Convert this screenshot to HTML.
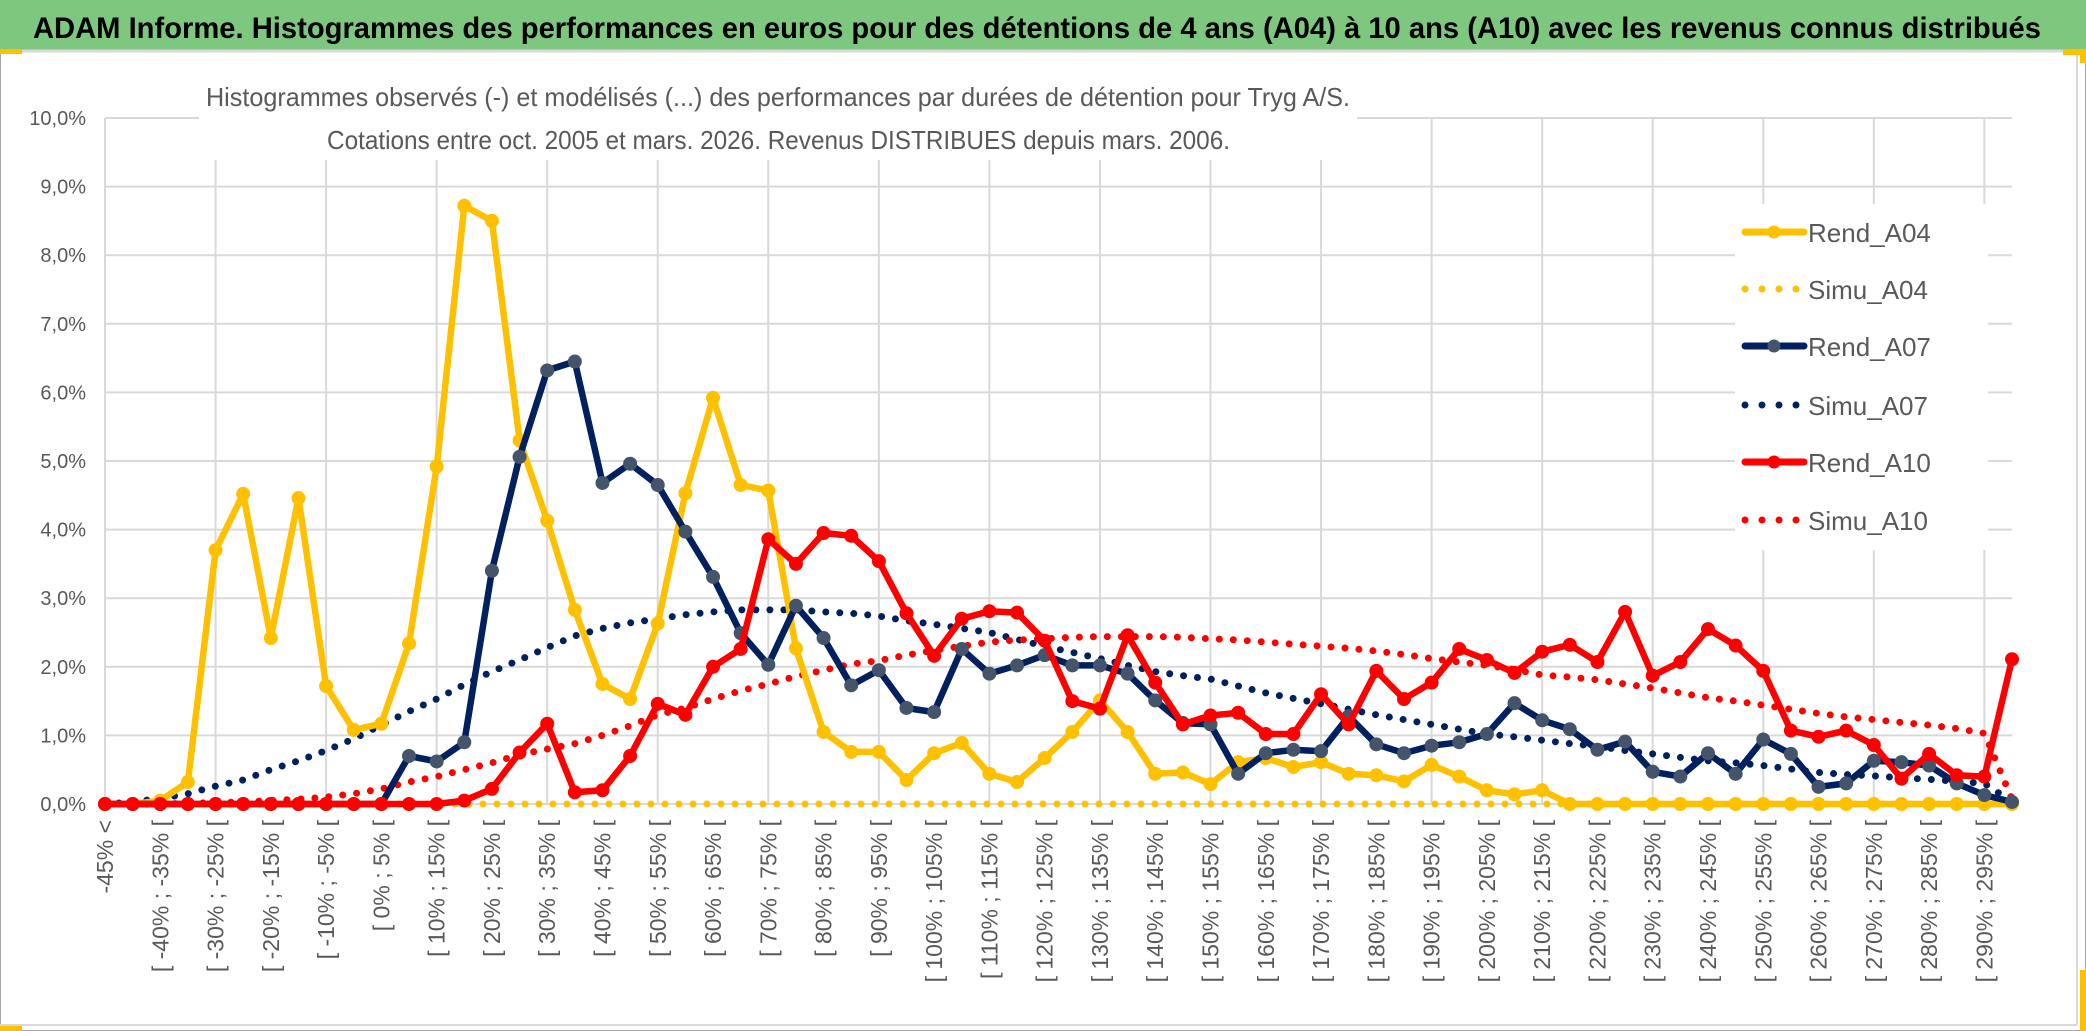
<!DOCTYPE html>
<html><head><meta charset="utf-8"><style>
html,body{margin:0;padding:0;background:#fff;}
svg{display:block;font-family:"Liberation Sans",sans-serif;}
</style></head><body>
<svg id="chart" width="2086" height="1031" viewBox="0 0 2086 1031">
  <rect x="0" y="0" width="2086" height="1031" fill="#fff"/>
  <rect x="0.5" y="0.5" width="2085" height="1030" fill="none" stroke="#a6a6a6"/>
  <rect x="0" y="0" width="2086" height="50" fill="#7DC87E"/>
  <line x1="0" y1="51" x2="2086" y2="51" stroke="#d9d9d9" stroke-width="3"/>
  <text x="33" y="38" font-size="30" font-weight="bold" fill="#000" textLength="2008" lengthAdjust="spacingAndGlyphs">ADAM Informe. Histogrammes des performances en euros pour des détentions de 4 ans (A04) à 10 ans (A10) avec les revenus connus distribués</text>
  <rect x="0" y="49" width="22" height="5" fill="#FFC000"/>
  <rect x="2063" y="49" width="23" height="6" fill="#FFC000"/>
  <rect x="2080" y="49" width="6" height="14" fill="#FFC000"/>
  <rect x="2080" y="970" width="6" height="61" fill="#FFC000"/>
  <rect x="0" y="1025" width="22" height="6" fill="#FFC000"/>
  <line x1="2077" y1="55" x2="2077" y2="1025" stroke="#d9d9d9" stroke-width="2"/>
  <line x1="0" y1="1025" x2="2077" y2="1025" stroke="#d9d9d9" stroke-width="2"/>
  <g id="grid"></g>
  <g id="yaxis"></g>
  <g id="xaxis"></g>
  <g id="series"></g>
  <rect x="199" y="60" width="1158" height="100" fill="#fff"/>
  <text x="206" y="106" font-size="26" fill="#595959" textLength="1144" lengthAdjust="spacingAndGlyphs">Histogrammes observés (-) et modélisés (...) des performances par durées de détention pour Tryg A/S.</text>
  <text x="327" y="149" font-size="26" fill="#595959" textLength="903" lengthAdjust="spacingAndGlyphs">Cotations entre oct. 2005 et mars. 2026. Revenus DISTRIBUES depuis mars. 2006.</text>
  <rect x="1735" y="204" width="253" height="346" fill="#fff"/>
  <g id="legend"></g>
</svg>
<script>
const categories = ["-45% <","[ -45% ; -40% [","[ -40% ; -35% [","[ -35% ; -30% [","[ -30% ; -25% [","[ -25% ; -20% [","[ -20% ; -15% [","[ -15% ; -10% [","[ -10% ; -5% [","[ -5% ; 0% [",
"[ 0% ; 5% [","[ 5% ; 10% [","[ 10% ; 15% [","[ 15% ; 20% [","[ 20% ; 25% [","[ 25% ; 30% [","[ 30% ; 35% [","[ 35% ; 40% [","[ 40% ; 45% [","[ 45% ; 50% [",
"[ 50% ; 55% [","[ 55% ; 60% [","[ 60% ; 65% [","[ 65% ; 70% [","[ 70% ; 75% [","[ 75% ; 80% [","[ 80% ; 85% [","[ 85% ; 90% [","[ 90% ; 95% [","[ 95% ; 100% [",
"[ 100% ; 105% [","[ 105% ; 110% [","[ 110% ; 115% [","[ 115% ; 120% [","[ 120% ; 125% [","[ 125% ; 130% [","[ 130% ; 135% [","[ 135% ; 140% [","[ 140% ; 145% [","[ 145% ; 150% [",
"[ 150% ; 155% [","[ 155% ; 160% [","[ 160% ; 165% [","[ 165% ; 170% [","[ 170% ; 175% [","[ 175% ; 180% [","[ 180% ; 185% [","[ 185% ; 190% [","[ 190% ; 195% [","[ 195% ; 200% [",
"[ 200% ; 205% [","[ 205% ; 210% [","[ 210% ; 215% [","[ 215% ; 220% [","[ 220% ; 225% [","[ 225% ; 230% [","[ 230% ; 235% [","[ 235% ; 240% [","[ 240% ; 245% [","[ 245% ; 250% [",
"[ 250% ; 255% [","[ 255% ; 260% [","[ 260% ; 265% [","[ 265% ; 270% [","[ 270% ; 275% [","[ 275% ; 280% [","[ 280% ; 285% [","[ 285% ; 290% [","[ 290% ; 295% [","[ 295% ; 300% ["];
const yTicks = [0,1,2,3,4,5,6,7,8,9,10];
const yTickLabels = ["0,0%","1,0%","2,0%","3,0%","4,0%","5,0%","6,0%","7,0%","8,0%","9,0%","10,0%"];
const rendA04 = [0,0,0.05,0.32,3.7,4.52,2.42,4.46,1.72,1.08,1.17,2.34,4.92,8.72,8.5,5.3,4.13,2.83,1.75,1.53,2.63,4.53,5.92,4.65,4.57,2.27,1.05,0.76,0.76,0.35,0.74,0.89,0.44,0.32,0.67,1.05,1.51,1.05,0.44,0.46,0.29,0.61,0.67,0.54,0.61,0.44,0.42,0.33,0.57,0.4,0.2,0.14,0.2,0,0,0,0,0,0,0,0,0,0,0,0,0,0,0,0,0];
const simuA04 = [0,0,0,0,0,0,0,0,0,0,0,0,0,0,0,0,0,0,0,0,0,0,0,0,0,0,0,0,0,0,0,0,0,0,0,0,0,0,0,0,0,0,0,0,0,0,0,0,0,0,0,0,0,0,0,0,0,0,0,0,0,0,0,0,0,0,0,0,0,0];
const rendA07 = [0,0,0,0,0,0,0,0,0,0,0,0.7,0.62,0.9,3.4,5.06,6.32,6.45,4.68,4.96,4.65,3.97,3.31,2.49,2.03,2.89,2.42,1.73,1.95,1.4,1.34,2.26,1.9,2.02,2.17,2.02,2.02,1.9,1.51,1.18,1.16,0.44,0.74,0.79,0.77,1.28,0.87,0.74,0.85,0.9,1.02,1.47,1.22,1.09,0.79,0.91,0.47,0.4,0.74,0.44,0.94,0.73,0.25,0.3,0.63,0.61,0.56,0.3,0.13,0.03];
const simuA07 = [0,0.03,0.08,0.15,0.26,0.35,0.5,0.63,0.78,0.95,1.15,1.35,1.53,1.74,1.93,2.1,2.28,2.45,2.56,2.64,2.7,2.76,2.8,2.83,2.83,2.83,2.8,2.78,2.74,2.67,2.62,2.56,2.5,2.4,2.3,2.21,2.12,2.02,1.93,1.87,1.82,1.72,1.62,1.54,1.46,1.38,1.3,1.23,1.16,1.09,1.02,0.98,0.93,0.88,0.84,0.78,0.73,0.68,0.63,0.6,0.56,0.51,0.46,0.43,0.41,0.38,0.36,0.33,0.3,0.03];
const rendA10 = [0,0,0,0,0,0,0,0,0,0,0,0,0,0.05,0.22,0.75,1.17,0.17,0.2,0.7,1.46,1.3,2.0,2.26,3.86,3.5,3.95,3.91,3.54,2.78,2.16,2.7,2.81,2.79,2.38,1.5,1.39,2.46,1.77,1.16,1.29,1.33,1.02,1.02,1.6,1.16,1.94,1.53,1.77,2.26,2.1,1.91,2.22,2.32,2.07,2.8,1.87,2.07,2.55,2.31,1.94,1.07,0.98,1.07,0.86,0.37,0.73,0.42,0.4,2.11];
const simuA10 = [0,0,0,0.01,0.02,0.03,0.05,0.07,0.1,0.15,0.22,0.32,0.4,0.5,0.6,0.72,0.8,0.88,1.0,1.14,1.3,1.4,1.53,1.65,1.75,1.86,1.95,2.04,2.09,2.17,2.24,2.3,2.36,2.39,2.41,2.43,2.44,2.44,2.44,2.43,2.41,2.39,2.36,2.33,2.3,2.27,2.23,2.18,2.12,2.07,2.02,1.96,1.88,1.85,1.81,1.75,1.69,1.62,1.55,1.5,1.44,1.38,1.32,1.27,1.23,1.19,1.15,1.1,1.03,0.07];
const seriesNames = ["Rend_A04","Simu_A04","Rend_A07","Simu_A07","Rend_A10","Simu_A10"];

const NS = "http://www.w3.org/2000/svg";
const plotL = 105, plotR = 2012, plotT = 118, plotB = 804, yMax = 10;
function xPos(i){ return plotL + i * (plotR - plotL) / (categories.length - 1); }
function yPos(v){ return plotB - v / yMax * (plotB - plotT); }
function mk(tag, attrs, parent){ const e = document.createElementNS(NS, tag); for (const k in attrs) e.setAttribute(k, attrs[k]); parent.appendChild(e); return e; }

const grid = document.getElementById('grid');
yTicks.forEach(function(t, k){
  const l = mk('line', {x1: plotL, x2: plotR, y1: yPos(t), y2: yPos(t), stroke: '#d9d9d9', 'stroke-width': 2}, grid);
  
  
  const tx = mk('text', {x: 86, y: yPos(t) + 7, 'text-anchor': 'end', 'font-size': 20, fill: '#595959'}, document.getElementById('yaxis'));
  tx.textContent = yTickLabels[k];
  
  
});
for (let i = 0; i < categories.length; i += 4) {
  const l = mk('line', {x1: xPos(i), x2: xPos(i), y1: plotT, y2: plotB, stroke: '#d9d9d9', 'stroke-width': 2}, grid);
  
  
}
const xa = document.getElementById('xaxis');
categories.forEach(function(c, i){
  if (i % 2 !== 0) return;
  const x = xPos(i) + 8, y = 820;
  const t = mk('text', {x: x, y: y, 'text-anchor': 'end', 'font-size': 23, fill: '#595959', transform: 'rotate(-90 ' + x + ' ' + y + ')'}, xa);
  t.textContent = c;
  
  
});

const sg = document.getElementById('series');
function pts(arr){ return arr.map(function(v, i){ return xPos(i).toFixed(1) + ',' + yPos(v).toFixed(1); }).join(' '); }
function drawDotted(arr, color, name){
  const p = mk('polyline', {points: pts(arr), fill: 'none', stroke: color, 'stroke-width': 7, 'stroke-linecap': 'round', 'stroke-dasharray': '0 14'}, sg);
  
  
}
function drawRend(arr, color, mColor, name){
  const g = mk('g', {}, sg);
  
  
  const p = mk('polyline', {points: pts(arr), fill: 'none', stroke: color, 'stroke-width': 6.5, 'stroke-linejoin': 'round'}, g);
  
  
  arr.forEach(function(v, i){
    const c = mk('circle', {cx: xPos(i), cy: yPos(v), r: 6.5, fill: mColor, stroke: mColor}, g);
    
    
  });
}
drawDotted(simuA04, '#FFC000', 'simu-a04-line');
drawDotted(simuA07, '#002060', 'simu-a07-line');
drawDotted(simuA10, '#FF0000', 'simu-a10-line');
drawRend(rendA04, '#FFC000', '#FFC000', 'rend-a04-series');
drawRend(rendA07, '#002060', '#44546A', 'rend-a07-series');
drawRend(rendA10, '#FF0000', '#FF0000', 'rend-a10-series');

const lg = document.getElementById('legend');
const legColors = ['#FFC000','#FFC000','#002060','#002060','#FF0000','#FF0000'];
const legMarker = ['#FFC000','#FFC000','#44546A','#44546A','#FF0000','#FF0000'];
const legY = [232,289,346,405,462,520];
seriesNames.forEach(function(n, k){
  const y = legY[k];
  const g = mk('g', {}, lg);
  
  
  if (k % 2 === 0) {
    mk('line', {x1: 1745, x2: 1804, y1: y, y2: y, stroke: legColors[k], 'stroke-width': 7, 'stroke-linecap': 'round'}, g);
    mk('circle', {cx: 1774, cy: y, r: 6.5, fill: legMarker[k]}, g);
  } else {
    mk('line', {x1: 1745, x2: 1804, y1: y, y2: y, stroke: legColors[k], 'stroke-width': 7, 'stroke-linecap': 'round', 'stroke-dasharray': '0 17'}, g);
  }
  const t = mk('text', {x: 1808, y: y + 10, 'font-size': 26, fill: '#595959'}, g);
  t.textContent = n;
  
  
});
</script>
</body></html>
